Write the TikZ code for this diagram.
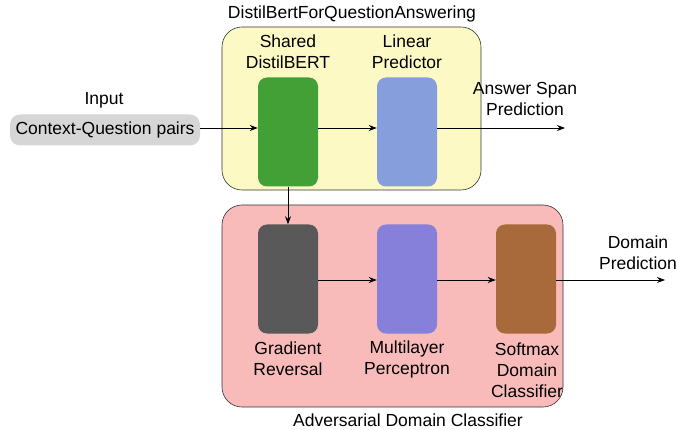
\documentclass[tikz,border=0pt]{standalone}
\usepackage{fontspec}
\setmainfont{Liberation Sans}
\usetikzlibrary{arrows.meta}
\definecolor{panelyellow}{RGB}{252,249,196}
\definecolor{panelpink}{RGB}{249,186,186}
\definecolor{bertgreen}{RGB}{67,160,55}
\definecolor{linblue}{RGB}{135,158,221}
\definecolor{gradgray}{RGB}{89,89,89}
\definecolor{mlppurple}{RGB}{135,128,218}
\definecolor{softbrown}{RGB}{168,106,58}
\definecolor{inputgray}{RGB}{214,214,214}
\begin{document}
\begin{tikzpicture}[x=1pt,y=-1pt,
  every node/.style={font=\fontsize{17.5}{21}\selectfont, align=center, inner sep=0pt},
  panel/.style={draw=black!80, line width=0.6pt, rounded corners=20pt},
  block/.style={rounded corners=9pt, minimum width=60pt, minimum height=109pt},
  flow/.style={-{Stealth[length=8pt,width=6pt]}, line width=0.9pt}]
\useasboundingbox (0,0) rectangle (677,430);

% container panels
\draw[panel, fill=panelyellow] (222,27) rectangle (481,190);
\draw[panel, fill=panelpink] (222,205) rectangle (563,407);
\node (toptitle) at (352,14) {DistilBertForQuestionAnswering};
\node (bottitle) at (408,420) {Adversarial Domain Classifier};

% input
\node (inlabel) at (104,100) {Input};
\node[fill=inputgray, rounded corners=10pt, minimum width=190pt, minimum height=31pt] (input) at (105,130) {Context-Question pairs};

% question answering branch
\node[block, fill=bertgreen] (bert) at (288,132) {};
\node[block, fill=linblue] (linear) at (407,132) {};
\node (bertlbl) at (288,52) {Shared\\DistilBERT};
\node (linlbl) at (407,52) {Linear\\Predictor};
\coordinate (spanend) at (565,128);
\node (spanlbl) at (525,99) {Answer Span\\Prediction};

% domain classifier branch
\node[block, fill=gradgray] (grad) at (288,279) {};
\node[block, fill=mlppurple] (mlp) at (407,279) {};
\node[block, fill=softbrown] (soft) at (526,279) {};
\node (gradlbl) at (288,359) {Gradient\\Reversal};
\node (mlplbl) at (407,359) {Multilayer\\Perceptron};
\node (softlbl) at (527,370) {Softmax\\Domain\\Classifier};
\coordinate (domend) at (665,280);
\node (domlbl) at (638,253) {Domain\\Prediction};

% connectors
\draw[flow] (input.east |- 0,128) -- (bert.west |- 0,128);
\draw[flow] (bert.east |- 0,128) -- (linear.west |- 0,128);
\draw[flow] (linear.east |- 0,128) -- (spanend);
\draw[flow] (bert.south) -- (grad.north);
\draw[flow] (grad.east |- 0,280) -- (mlp.west |- 0,280);
\draw[flow] (mlp.east |- 0,280) -- (soft.west |- 0,280);
\draw[flow] (soft.east |- 0,280) -- (domend);
\end{tikzpicture}
\end{document}
